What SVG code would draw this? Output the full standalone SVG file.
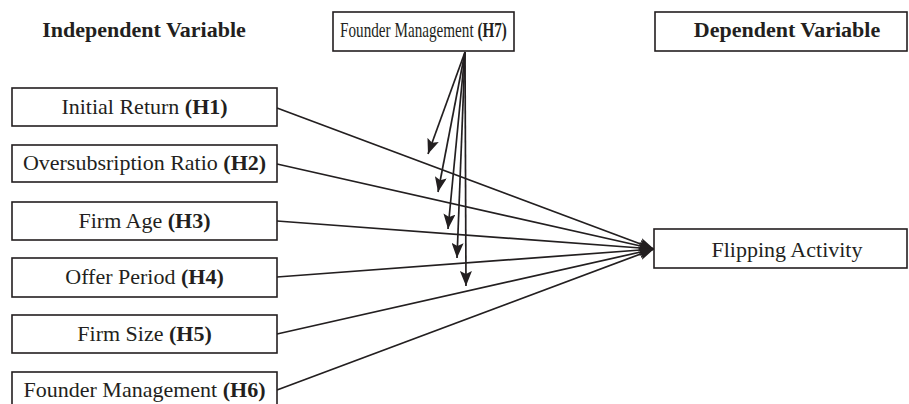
<svg xmlns="http://www.w3.org/2000/svg" width="909" height="404" viewBox="0 0 909 404">
<style>
.box{fill:#fff;stroke:#231f20;stroke-width:1.6}
.t{font-family:"Liberation Serif","Times New Roman",serif;font-size:22px;fill:#231f20;text-anchor:middle}
.b{font-weight:bold}
.c{stroke:#231f20;stroke-width:1.7;fill:none;marker-end:url(#ah)}
</style>
<defs>
<marker id="ah" markerUnits="userSpaceOnUse" markerWidth="16" markerHeight="12" refX="15" refY="6" orient="auto">
<path d="M0,0 L15,6 L0,12 L3,6 z" fill="#231f20"/>
</marker>
</defs>
<rect width="909" height="404" fill="#fff"/>
<text class="t b" x="144" y="37">Independent Variable</text>
<g id="connectors">
<line class="c" x1="277" y1="108" x2="654" y2="249"/>
<line class="c" x1="277" y1="164" x2="654" y2="249"/>
<line class="c" x1="277" y1="221" x2="654" y2="249"/>
<line class="c" x1="277" y1="277" x2="654" y2="249"/>
<line class="c" x1="277" y1="334" x2="654" y2="249"/>
<line class="c" x1="277" y1="390" x2="654" y2="249"/>
<line class="c" x1="465" y1="52" x2="428" y2="154"/>
<line class="c" x1="465" y1="52" x2="438" y2="192"/>
<line class="c" x1="465" y1="52" x2="448" y2="229"/>
<line class="c" x1="465" y1="52" x2="457" y2="258"/>
<line class="c" x1="465" y1="52" x2="466" y2="286"/>
</g>
<g id="h7"><rect class="box" x="333" y="12" width="181" height="39"/><text class="t" transform="translate(423.5,37) scale(0.69,1)" x="0" y="0">Founder Management <tspan class="b">(H7)</tspan></text></g>
<g id="dv"><rect class="box" x="655" y="12" width="252" height="39"/><text class="t b" x="787" y="37">Dependent Variable</text></g>
<g id="h1"><rect class="box" x="12" y="88" width="265" height="38"/><text class="t" x="144.5" y="114">Initial Return <tspan class="b">(H1)</tspan></text></g>
<g id="h2"><rect class="box" x="12" y="145" width="265" height="37"/><text class="t" x="144.5" y="170">Oversubsription Ratio <tspan class="b">(H2)</tspan></text></g>
<g id="h3"><rect class="box" x="12" y="202" width="265" height="38"/><text class="t" x="144.5" y="228">Firm Age <tspan class="b">(H3)</tspan></text></g>
<g id="h4"><rect class="box" x="12" y="258" width="265" height="39"/><text class="t" x="144.5" y="284">Offer Period <tspan class="b">(H4)</tspan></text></g>
<g id="h5"><rect class="box" x="12" y="315" width="265" height="38"/><text class="t" x="144.5" y="341">Firm Size <tspan class="b">(H5)</tspan></text></g>
<g id="h6"><rect class="box" x="12" y="372" width="265" height="40"/><text class="t" x="144.5" y="397">Founder Management <tspan class="b">(H6)</tspan></text></g>
<g id="fa"><rect class="box" x="654" y="229" width="253" height="39"/><text class="t" x="787" y="257">Flipping Activity</text></g>
</svg>
